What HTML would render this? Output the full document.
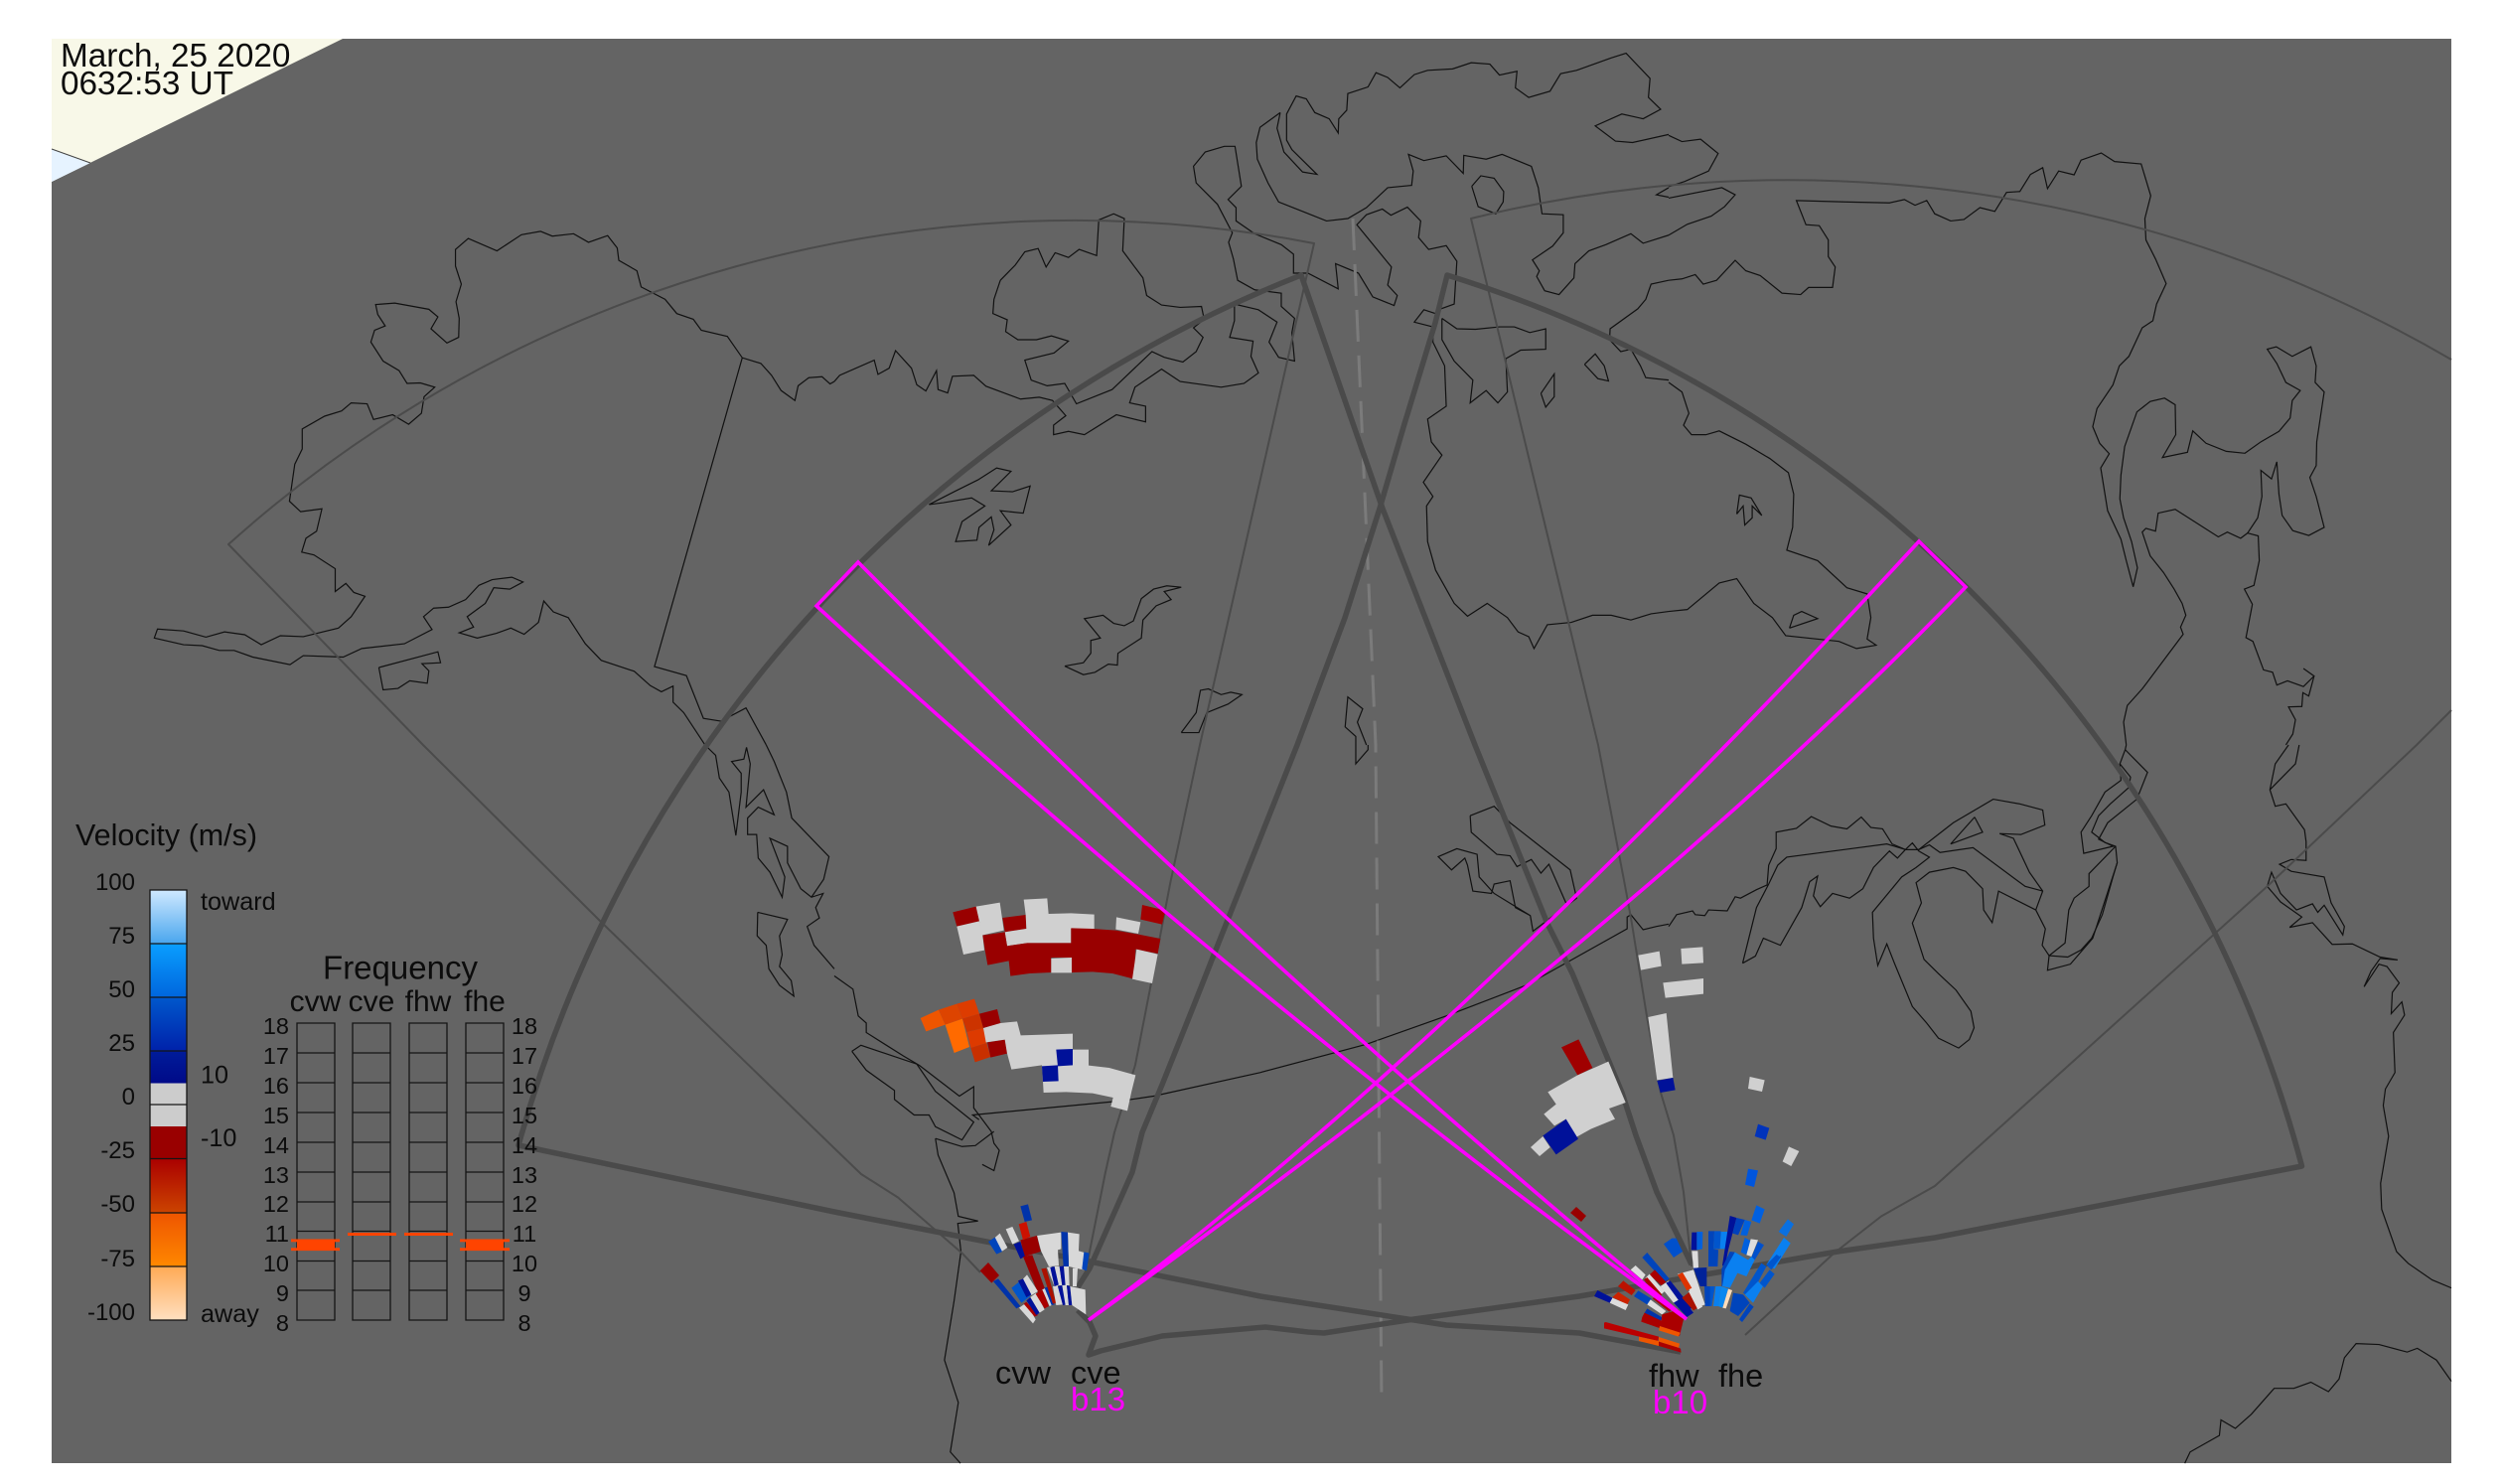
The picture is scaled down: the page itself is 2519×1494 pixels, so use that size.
<!DOCTYPE html>
<html><head><meta charset="utf-8"><style>
html,body{margin:0;padding:0;background:#fff}
svg{display:block}
.c polyline{fill:none;stroke:#111;stroke-width:1.2;vector-effect:non-scaling-stroke}
.t path{fill:none;stroke:#4b4b4b;stroke-width:2;stroke-linejoin:round}
.k path{fill:none;stroke:#4a4a4a;stroke-width:5.5;stroke-linejoin:round}
text{font-family:"Liberation Sans",sans-serif;fill:#0c0c0c}
</style></head><body>
<svg width="2519" height="1494" viewBox="0 0 2519 1494" xmlns="http://www.w3.org/2000/svg">
<rect x="52" y="39" width="2416" height="1434" fill="#646464"/>
<polygon points="52,39 345,39 52,183" fill="#f8f8e8"/>
<polygon points="52,150 91,164 52,183" fill="#e6f3ff"/>
<polyline points="52,150 91,164" fill="none" stroke="#444" stroke-width="1"/>

<g class="c" transform="scale(.5357,.4783)">
<polyline points="1568,803 1560,808 1545,793 1520,795 1500,812 1494,843 1468,822 1450,790 1430,765 1395,753 1367,708 1318,695 1303,672 1272,660 1250,630 1205,604 1197,570 1163,548 1160,522 1142,496 1106,510 1078,492 1038,497 1016,487 980,494 934,528 880,502 856,525 856,560 867,598 857,635 863,670 862,710 840,722 810,692 823,667 806,651 742,638 706,641 710,662 724,686 704,695 697,720 720,760 750,780 765,807 790,806 817,815 797,835 792,870 768,893 738,873 702,883 690,850 660,848 642,865 610,876 568,903 568,945 554,977 544,1055 565,1077 605,1071 595,1118 575,1133 567,1162 590,1168 630,1197 630,1245 650,1228 665,1247 686,1255 660,1298 636,1322 570,1340 527,1338 491,1357 460,1336 422,1330 387,1341 345,1328 296,1324 290,1343 345,1357 380,1359 412,1369 440,1369 475,1383 545,1399 570,1380 645,1383 680,1365 760,1355 812,1325 796,1298 815,1280 843,1278 875,1262 900,1232 925,1220 962,1215 983,1225 958,1240 928,1237 912,1270 878,1298 890,1320 863,1332 897,1343 933,1333 960,1322 985,1335 1012,1310 1022,1265 1040,1288 1068,1300 1100,1355 1130,1390 1192,1413 1222,1443 1243,1456 1265,1444 1265,1478 1285,1500 1325,1568"/>
<polyline points="1395,753 1230,1403 1290,1422 1322,1512 1355,1518 1402,1490 1440,1568"/>
<polyline points="712,1405 823,1372 828,1395 793,1397 806,1412 803,1438 770,1433 748,1449 720,1452 712,1405"/>
</g>

<g class="c" transform="translate(0,750) scale(.5357,.4745)">
<polyline points="1325,0 1345,22 1352,70 1370,100 1383,192 1393,100 1393,60 1375,35 1398,30 1403,5 1410,40 1402,132 1435,95 1455,148 1425,132 1405,155 1405,190 1422,190 1425,240 1447,270 1470,323 1475,280 1447,198 1480,215 1480,250 1505,305 1525,323 1547,315 1533,345 1540,367 1517,385 1530,425 1568,475"/>
<polyline points="1440,0 1455,35 1478,100 1488,155 1558,237 1548,285 1525,323"/>
<polyline points="1424,355 1480,370 1465,405 1470,445 1465,470 1487,500 1492,533 1465,510 1445,475 1440,425 1423,405 1424,355"/>
</g>

<g class="c" transform="translate(840,0) scale(.5357,.4783)">
<polyline points="0,803 10,790 75,758 82,788 103,775 115,738 145,775 155,810 172,823 192,780 195,820 213,827 222,792 262,790 285,813 350,840 385,836 410,843 435,875 412,895 412,915 440,908 470,915 530,873 585,888 585,855 555,848 565,815 615,777 650,803 727,815 770,807 797,785 783,750 787,718 743,710 752,675 752,640 797,652 832,678 817,720 835,752 865,760 860,700 865,670 840,645 840,617 790,610 758,590 750,545 741,510 748,490 720,430 680,385 675,350 697,320 733,308 753,308 765,392 740,420 755,437 755,465 790,492 840,515 863,535 863,575 890,575 947,608 942,555 985,575 1012,625 1052,643 1058,622 1040,600 1047,562 982,473 1000,452 1030,440 1046,453 1077,436 1102,465 1098,500 1117,525 1150,517 1170,550 1165,640 1140,650 1130,660 1108,652 1090,678 1125,688 1125,720 1147,770 1150,855 1115,882 1122,930 1142,958 1107,1015 1125,1045 1113,1065 1115,1140 1130,1200 1165,1270 1190,1297 1227,1270 1265,1300 1285,1330 1305,1340 1315,1365 1340,1315 1385,1310 1425,1295 1460,1295 1497,1305 1535,1292 1568,1287"/>
<polyline points="1142,670 1170,692 1205,693 1250,688 1278,688 1307,700 1337,692 1337,735 1290,737 1262,755 1265,825 1247,848 1225,822 1195,848 1200,800 1165,760 1142,715 1142,670"/>
<polyline points="838,237 800,268 793,300 795,335 815,385 835,425 880,445 925,465 965,460 1000,437 1040,395 1085,390 1088,360 1079,325 1108,338 1150,328 1182,365 1183,327 1225,335 1255,325 1310,350 1323,395 1330,450 1370,452 1370,490 1350,518 1312,547 1325,570 1320,582 1335,612 1362,620 1390,585 1392,555 1418,528 1450,515 1497,492 1520,512 1568,495"/>
<polyline points="838,237 832,270 845,320 880,362 907,367 860,315 850,295 850,240 868,202 887,208 903,237 930,250 947,280 948,250 963,232 965,197 1003,183 1018,153 1040,163 1063,185 1090,157 1115,148 1162,145 1197,132 1232,135 1250,158 1283,150 1280,185 1305,205 1345,192 1365,155 1395,148 1460,122 1488,112 1533,165 1530,205 1553,230 1520,250 1480,240 1430,265 1468,297 1500,300 1568,283"/>
<polyline points="1198,392 1215,370 1240,375 1258,403 1257,425 1243,450 1210,435 1198,392"/>
<polyline points="312,590 300,630 298,660 325,673 322,698 345,715 380,715 408,707 440,718 413,743 358,758 370,800 400,812 433,807 455,850 522,820 597,740 620,752 655,762 680,740 693,710 675,690 695,672 690,645 650,647 615,642 587,622 580,585 542,528 545,460 525,450 497,463 493,538 460,525 440,542 415,532 398,562 383,523 358,530 340,558 312,590"/>
<polyline points="178,1062 205,1058 258,1048 283,1065 240,1098 228,1140 268,1137 272,1110 295,1088 300,1115 290,1148 332,1105 312,1075 355,1080 368,1023 335,1035 295,1033 332,992 305,985 270,1010 225,1035 178,1062"/>
<polyline points="433,1402 468,1395 482,1375 482,1348 500,1343 470,1302 505,1295 525,1312 545,1317 562,1307 577,1260 600,1240 625,1233 652,1236 620,1245 633,1262 605,1275 580,1305 577,1343 533,1375 532,1400 515,1398 490,1415 468,1420 433,1402"/>
<polyline points="652,1542 680,1500 688,1453 703,1450 727,1462 745,1457 766,1462 740,1482 700,1500 685,1542 652,1542"/>
<polyline points="1000,1568 983,1520 993,1492 965,1467 960,1530 980,1550 980,1568"/>
<polyline points="1410,767 1430,745 1447,770 1455,802 1435,797 1410,767"/>
<polyline points="1328,828 1353,787 1353,835 1337,857 1328,828"/>
<polyline points="1568,395 1545,410 1568,415"/>
<polyline points="1568,590 1535,598 1525,630 1510,650 1458,692 1457,715 1478,740 1497,735 1515,770 1525,795 1568,800"/>
</g>

<g class="c" transform="translate(1680,0) scale(.5357,.4783)">
<polyline points="0,285 25,298 60,293 93,323 75,360 30,382 0,393"/>
<polyline points="0,417 100,395 125,410 105,435 80,455 35,472 0,495"/>
<polyline points="0,590 25,587 50,578 65,598 90,590 125,548 145,570 172,580 213,617 248,620 263,605 308,605 313,562 300,540 300,505 283,475 258,473 240,422 330,425 415,427 443,420 463,432 485,422 500,450 530,465 555,462 585,437 613,445 635,405 660,403 680,367 703,353 712,397 733,360 762,368 775,337 813,322 838,340 888,345 906,412 895,460 897,505 915,545 935,597 917,640 910,675 890,690 865,750 847,770 835,810 805,860 797,898 810,933 828,955 812,985 825,1075 850,1135 860,1180 873,1235 881,1195 870,1140 855,1090 848,1050 850,1000 857,940 880,867 905,845 932,838 952,852 953,915 928,963 975,952 985,907 1010,933 1048,950 1083,954 1113,930 1147,908 1168,880 1172,843 1187,822 1160,805 1143,765 1125,735 1142,730 1172,750 1207,730 1217,770 1215,805 1232,825 1218,930 1217,980 1205,1005 1217,1045 1232,1110 1203,1127 1173,1117 1153,1085 1147,1040 1143,972 1133,1008 1113,990 1115,1045 1107,1090 1088,1122 1108,1128 1110,1180 1100,1232 1082,1240 1097,1272 1085,1342 1098,1350 1118,1410 1135,1415 1143,1442 1163,1433 1193,1445 1213,1423 1193,1407"/>
<polyline points="1213,1423 1203,1465 1192,1458 1190,1487 1165,1488 1178,1515 1173,1545 1160,1568"/>
<polyline points="1088,1122 1075,1133 1050,1120 1033,1130 952,1072 920,1080 915,1118 897,1112 890,1120 905,1170 930,1205 950,1240 965,1270 972,1295 962,1320 967,1335 890,1450 862,1485 855,1520 860,1568"/>
<polyline points="0,805 25,825 38,870 28,895 43,915 70,915 95,907 145,935 190,965 225,995 235,1040 233,1110 222,1158 280,1180 335,1237 373,1250 380,1300 373,1345 390,1358 353,1365 320,1350 220,1338 195,1300 160,1270 128,1218 95,1227 35,1283 0,1287"/>
<polyline points="128,1082 133,1042 155,1048 175,1085 157,1065 157,1090 143,1105 140,1065 128,1082"/>
<polyline points="227,1322 235,1295 250,1287 280,1302 227,1322"/>
</g>

<g class="c" transform="translate(840,750) scale(.5357,.4745)">
<polyline points="0,490 35,518 45,575 60,590 60,610 130,660 160,680 235,745 262,725 262,770 295,820 300,845 310,860 300,903 278,890"/>
<polyline points="33,650 50,637 155,677 190,735 262,800 240,838 190,810 178,785 150,785 113,752 113,733 60,690 33,650"/>
<polyline points="190,835 195,870 225,950 233,1000 270,1010 232,1015 238,1075 225,1180 207,1305 233,1395 218,1500 237,1524"/>
<polyline points="190,835 240,852 265,850 300,820"/>
<polyline points="272,795 260,785 400,770 540,755 600,745 800,695 1000,635 1150,575 1300,510 1490,390 1490,365 1497,360 1520,392 1545,385 1568,380"/>
<polyline points="1195,150 1240,130 1270,165 1383,265 1395,325 1313,395 1308,362 1280,345 1270,288 1240,295 1235,315 1200,310 1190,255 1185,240 1160,265 1135,237 1170,220 1208,232 1212,280 1240,315 1308,362"/>
<polyline points="1195,150 1197,185 1245,232 1270,235 1283,258 1310,243 1328,272 1343,253 1375,335"/>
<polyline points="1003,0 1003,10 980,40 980,0"/>
</g>

<g class="c" transform="translate(1680,750) scale(.5357,.4745)">
<polyline points="0,385 15,360 45,352 50,360 68,362 75,350 110,352 125,322 135,325 165,307 185,297 188,255 202,220 202,185 240,177 268,152 305,172 335,178 362,153 380,175 402,178 420,210 445,222 470,222 535,165 610,115 660,125 703,138 707,170 662,190 622,188 648,198 678,270 703,310 690,350 708,390 702,425 715,447 750,450 775,435 795,410 815,360 835,280 843,250 840,215 820,207 795,185 808,150 830,125 865,90 868,68 848,40 858,10 860,0"/>
<polyline points="858,10 900,58 880,115 825,165 808,200 835,215 780,230 775,185 795,150 820,100 850,75 848,40"/>
<polyline points="139,463 163,448 178,410 210,425 250,345 265,290 280,278 272,320 285,343 308,315 340,325 365,305 385,260 415,225 430,240 445,222 458,208 470,225 490,238 465,260 438,280 383,355 385,410 393,468 410,422 425,465 458,555 485,590 507,622 545,643 565,625 574,600 568,565 540,520 507,485 480,455 458,378 475,335 465,292 490,270 535,260 558,268 590,305 592,350 608,377 620,310 690,350"/>
<polyline points="139,463 165,345 188,295 205,255 222,238 330,222 410,210 445,222"/>
<polyline points="470,222 490,212 510,228 572,218 670,300 703,310"/>
<polyline points="575,153 590,185 530,210 575,153"/>
<polyline points="715,447 712,478 755,465 797,410 843,250"/>
<polyline points="715,447 745,420 752,350 762,325 790,300 790,273 840,215"/>
<polyline points="1165,0 1140,40 1130,95 1140,130 1160,125 1195,180 1198,205 1198,245 1170,243 1148,253 1170,268 1232,280 1245,335 1270,385 1267,403 1232,340 1220,355 1210,337 1180,350 1150,315 1133,270 1125,300 1150,333 1190,365 1167,387 1210,377 1247,423 1285,422 1337,450 1370,456 1337,453 1320,480 1307,513 1335,465 1350,470 1373,505 1360,525 1358,570 1378,545 1383,573 1362,610 1365,695 1347,730 1343,765 1353,830 1338,930 1340,985 1368,1075 1390,1100 1435,1135 1471,1152"/>
<polyline points="1130,95 1178,40 1185,0"/>
<polyline points="970,1524 980,1500 1035,1465 1038,1432 1065,1450 1095,1420 1138,1365 1175,1365 1207,1352 1240,1372 1260,1345 1270,1300 1292,1270 1335,1272 1388,1288 1407,1280 1443,1305 1471,1350"/>
</g>

<!-- thin FOV lines -->
<g class="t">
<path d="M987,1281 L969,1262 L904,1205.500 L867,1182 L840,1156 L605,928 L426,750 L230,548 A1275,1275 0 0 1 1323,245 L1208,750 L1178,890 L1157,1000 L1143,1072 L1122,1140 L1113,1180 L1093,1280"/>
<path d="M2468,362 A1327,1327 0 0 0 1481,220 L1609,750 L1638,902 L1643,930 L1658,1023 L1672,1100 L1685,1143 L1695,1200 L1703,1275"/>
<path d="M2468,715 L2433,750 L2283,892 L1948,1194 L1894,1224.500 L1846,1262 L1757,1344"/>
</g>

<!-- dashed center -->
<polyline points="1362,220 1385,750 1391,1414" fill="none" stroke="#7b7b7b" stroke-width="3" stroke-dasharray="32 14"/>

<!-- thick FOV lines -->
<g class="k">
<path d="M1703,1273 L1668,1200 L1647,1143 L1633,1100 L1583,980 L1558,930 L1485,750 L1392,512 L1310,277 A1322,1322 0 0 0 522,1153 L840,1220 L993,1250 L1097,1270 L1269,1305 L1456,1334 L1590,1342 L1692,1361"/>
<path d="M1085,1296 L1097,1277 L1140,1180 L1150,1140 L1170,1092 L1200,1017 L1242,911 L1306,750 L1354,622 L1389,512 L1413,430 L1445,325 L1457,277 A1285,1285 0 0 1 2317.500,1174 L1948,1246 L1850,1260 L1723,1282 L1590,1305 L1424,1328 L1333,1342 L1317,1341 L1274,1336 L1170,1345 L1108,1360 L1096,1364 L1103,1345 L1097,1331 L1085,1319"/>
</g>

<!-- Top cluster, lower cluster -->
<g transform="translate(900,890) scale(.33333)">
<polygon fill="#990000" points="178,85 248,68 258,112 190,128"/>
<polygon fill="#d0d0d0" points="248,68 320,56 332,140 265,155 258,112"/>
<polygon fill="#d0d0d0" points="190,128 258,112 268,155 273,200 210,213"/>
<polygon fill="#990000" points="328,102 398,93 400,135 335,145"/>
<polygon fill="#d0d0d0" points="392,47 463,43 467,90 535,88 605,92 605,135 535,135 535,178 402,178 342,187 335,145 400,135 398,93"/>
<polygon fill="#d0d0d0" points="672,100 745,115 738,150 670,137"/>
<polygon fill="#a30000" points="750,63 820,80 810,122 745,107"/>
<polygon fill="#990000" points="268,155 335,145 342,187 402,178 535,178 535,133 600,135 670,140 738,152 805,165 797,210 730,197 725,287 660,270 600,265 537,267 537,222 475,222 475,267 410,270 352,278 347,232 283,245 275,200"/>
<polygon fill="#d0d0d0" points="475,225 537,222 537,268 475,268"/>
<polygon fill="#d0d0d0" points="733,197 797,212 780,300 720,287"/>
<polygon fill="#ee5500" points="80,405 135,380 155,425 97,445"/>
<polygon fill="#dd4400" points="135,380 190,362 207,407 155,425"/>
<polygon fill="#dd3c00" points="190,362 243,347 258,392 207,407"/>
<polygon fill="#ff6a00" points="155,425 207,407 228,492 182,510"/>
<polygon fill="#cc3300" points="207,407 258,392 270,435 220,447"/>
<polygon fill="#dd3a00" points="220,447 270,435 280,480 232,495"/>
<polygon fill="#c83000" points="232,495 280,480 292,522 245,538"/>
<polygon fill="#990000" points="258,392 312,378 322,420 270,435"/>
<polygon fill="#990000" points="282,478 335,470 342,512 292,524"/>
<polygon fill="#d0d0d0" points="270,435 322,420 372,415 383,457 540,452 540,500 588,500 588,548 650,555 730,577 718,625 705,685 655,672 662,645 600,632 520,628 452,630 450,595 447,547 355,560 342,512 335,470 278,478"/>
<polygon fill="#001199" points="490,500 540,498 540,547 495,550"/>
<polygon fill="#001199" points="447,550 495,547 497,595 450,597"/>
</g>

<g transform="translate(1520,930) scale(.33333)">
<polygon fill="#d0d0d0" points="388,95 452,83 458,128 396,140"/>
<polygon fill="#d0d0d0" points="517,75 583,70 585,118 520,122"/>
<polygon fill="#d0d0d0" points="463,178 585,165 585,212 470,224"/>
<polygon fill="#d0d0d0" points="418,282 473,270 493,465 445,472"/>
<polygon fill="#001199" points="445,474 493,465 500,502 455,510"/>
<polygon fill="#a00000" points="156,373 208,349 250,435 205,457"/>
<polygon fill="#d0d0d0" points="115,508 205,457 298,416 350,540 300,558 318,590 245,620 200,645 170,590 135,610 103,575 140,545"/>
<polygon fill="#001199" points="100,640 170,590 207,650 140,697"/>
<polygon fill="#d0d0d0" points="63,675 100,642 122,675 90,702"/>
<polygon fill="#d0d0d0" points="725,462 770,472 762,507 720,498"/>
<polygon fill="#0033bb" points="750,605 784,617 773,653 740,642"/>
<polygon fill="#d0d0d0" points="843,673 874,687 850,732 824,718"/>
<polygon fill="#0055dd" points="720,740 750,745 738,795 711,788"/>
</g>
<polygon fill="#990000" points="1581,1221 1587,1215 1597,1224 1592,1230"/>

<!-- cv fan -->
<g transform="translate(950,1180) scale(.33333)">
<polygon fill="#d8d8d8" points="282,192 355,182 355,232 345,235 348,283 318,285 295,240"/>
<polygon fill="#d8d8d8" points="375,182 410,187 408,238 425,243 422,295 378,285"/>
<polygon fill="#0033aa" points="355,180 375,182 378,285 362,285"/>
<polygon fill="#0044bb" points="424,241 440,245 432,298 418,293"/>
<polygon fill="#990000" points="232,205 282,192 293,240 245,255"/>
<polygon fill="#001199" points="212,218 232,210 246,255 232,262"/>
<polygon fill="#990000" points="240,255 268,250 305,350 285,365"/>
<polygon fill="#cc1100" points="227,157 250,150 262,195 240,205"/>
<polygon fill="#0033aa" points="232,103 255,97 267,145 245,150"/>
<polygon fill="#d8d8d8" points="188,172 208,165 228,208 208,218"/>
<polygon fill="#d8d8d8" points="155,198 170,185 193,228 175,240"/>
<polygon fill="#0044bb" points="135,210 155,197 177,240 160,248"/>
<polygon fill="#990000" points="110,298 135,273 168,312 145,335"/>
<polygon fill="#0033aa" points="150,330 165,322 232,405 220,412"/>
<polygon fill="#d8d8d8" points="235,328 252,310 285,360 265,372"/>
<polygon fill="#0055cc" points="205,350 230,330 262,375 235,395"/>
<polygon fill="#001199" points="225,328 240,322 265,370 250,378"/>
<polygon fill="#d8d8d8" points="228,410 250,395 278,445 270,457"/>
<polygon fill="#aa0000" points="242,398 250,392 285,432 275,437"/>
<polygon fill="#001199" points="250,388 262,378 290,425 280,432"/>
<polygon fill="#d8d8d8" points="262,378 280,365 305,415 290,425"/>
<polygon fill="#aa0000" points="278,368 300,355 318,405 305,412"/>
<polygon fill="#d8d8d8" points="298,355 310,350 330,400 320,405"/>
<polygon fill="#0033aa" points="305,350 318,345 335,400 326,402"/>
<polygon fill="#aa1100" points="295,292 310,290 340,395 330,398"/>
<polygon fill="#d8d8d8" points="312,288 325,285 358,340 335,345"/>
<polygon fill="#d8d8d8" points="330,345 345,343 360,400 340,402"/>
<polygon fill="#001199" points="322,288 335,285 348,340 335,345"/>
<polygon fill="#d8d8d8" points="335,285 350,285 358,342 348,342"/>
<polygon fill="#001199" points="350,285 363,283 370,340 358,342"/>
<polygon fill="#d8d8d8" points="363,285 378,285 380,342 368,342"/>
<polygon fill="#d8d8d8" points="390,290 405,290 402,345 390,345"/>
<polygon fill="#001199" points="345,345 358,342 370,400 360,402"/>
<polygon fill="#d8d8d8" points="358,342 372,342 378,402 368,402"/>
<polygon fill="#001199" points="372,342 382,345 388,402 378,402"/>
<polygon fill="#d8d8d8" points="382,345 428,355 430,430 388,402"/>
</g>

<!-- fh fan -->
<g transform="translate(1590,1200) scale(.33333)">
<polygon fill="#0060e0" points="535,40 560,52 545,95 520,85"/>
<polygon fill="#0a70e0" points="630,82 648,97 625,135 602,120"/>
<polygon fill="#0a80f0" points="618,138 638,155 590,232 565,220"/>
<polygon fill="#0044bb" points="390,118 408,118 405,172 420,175 418,225 390,225"/>
<polygon fill="#0055cc" points="408,118 428,118 425,172 405,172"/>
<polygon fill="#0a80f0" points="428,120 447,120 445,172 425,172"/>
<polygon fill="#001199" points="455,72 475,78 450,175 440,225 432,222"/>
<polygon fill="#0040bb" points="475,78 500,84 480,130 463,125"/>
<polygon fill="#0060dd" points="500,84 520,90 507,132 487,130"/>
<polygon fill="#001199" points="340,122 355,122 355,175 338,175"/>
<polygon fill="#0060dd" points="355,120 373,120 372,172 355,175"/>
<polygon fill="#dddddd" points="340,178 358,178 360,228 345,232"/>
<polygon fill="#0050cc" points="255,157 280,140 293,140 312,180 285,198"/>
<polygon fill="#0060dd" points="500,138 518,148 505,190 488,182"/>
<polygon fill="#dddddd" points="518,142 540,145 520,195 505,190"/>
<polygon fill="#0050cc" points="540,150 558,160 530,205 520,197"/>
<polygon fill="#0044bb" points="430,232 455,180 470,182 440,285 430,285"/>
<polygon fill="#0a80f0" points="440,235 470,182 510,205 520,195 530,205 505,255 478,245 455,290 432,285"/>
<polygon fill="#0055cc" points="385,345 395,285 410,285 400,345"/>
<polygon fill="#0a80f0" points="405,345 412,285 428,285 420,345"/>
<polygon fill="#0a88f0" points="420,345 428,285 450,292 433,350"/>
<polygon fill="#ffddbb" points="433,350 450,293 462,297 443,352"/>
<polygon fill="#0044bb" points="455,358 465,305 495,310 515,335 480,375 458,362"/>
<polygon fill="#0044bb" points="483,385 515,337 527,347 492,393"/>
<polygon fill="#0055cc" points="495,305 550,215 565,225 515,320"/>
<polygon fill="#0a80f0" points="500,310 540,270 555,285 525,335"/>
<polygon fill="#0055cc" points="545,275 575,235 590,248 560,290"/>
<polygon fill="#0055cc" points="565,220 600,185 610,195 580,235"/>
<polygon fill="#0a80f0" points="590,185 618,138 638,155 605,195"/>
<polygon fill="#0044bb" points="190,198 205,183 272,262 258,272"/>
<polygon fill="#dddddd" points="155,235 170,222 200,250 190,265"/>
<polygon fill="#aa0000" points="212,250 228,235 262,272 248,282"/>
<polygon fill="#dddddd" points="200,260 212,248 258,300 245,312"/>
<polygon fill="#aa0000" points="195,265 205,258 250,310 240,320"/>
<polygon fill="#dddddd" points="245,285 270,268 310,320 285,335"/>
<polygon fill="#001199" points="262,275 275,268 340,350 325,362"/>
<polygon fill="#dddddd" points="297,248 345,235 380,340 355,350 330,290"/>
<polygon fill="#dd3300" points="297,250 312,243 340,290 325,298"/>
<polygon fill="#002299" points="345,230 385,228 385,285 365,285"/>
<polygon fill="#0044bb" points="378,285 395,285 395,345 380,345"/>
<polygon fill="#aa1100" points="310,320 335,300 365,345 345,358"/>
<polygon fill="#dddddd" points="330,300 345,293 372,347 358,355"/>
<polygon fill="#001199" points="285,335 310,320 345,365 325,378"/>
<polygon fill="#bb1100" points="117,285 133,268 170,297 158,312"/>
<polygon fill="#cc2200" points="100,318 118,302 153,325 145,340"/>
<polygon fill="#dddddd" points="92,335 100,320 148,340 140,357"/>
<polygon fill="#001199" points="45,315 55,297 100,320 92,335"/>
<polygon fill="#0044bb" points="165,315 178,298 218,322 205,340"/>
<polygon fill="#dddddd" points="205,340 215,325 262,360 250,370"/>
<polygon fill="#aa0000" points="222,322 235,307 285,350 272,362"/>
<polygon fill="#0033aa" points="196,367 205,352 252,380 245,390"/>
<polygon fill="#aa0000" points="190,378 197,365 250,390 245,412 187,392"/>
<polygon fill="#aa0000" points="250,370 300,355 315,385 303,435 245,410"/>
<polygon fill="#ee5500" points="243,405 305,425 300,437 240,418"/>
<polygon fill="#bb0000" points="75,395 80,393 240,437 238,450 75,412"/>
<polygon fill="#ee5500" points="180,437 240,450 240,465 180,450"/>
<polygon fill="#ee5500" points="240,438 303,458 300,472 240,452"/>
<polygon fill="#aa0000" points="240,452 305,472 308,485 240,465"/>
</g>

<!-- magenta beams -->
<g fill="none" stroke="#ff00ff" stroke-width="3.600" stroke-linejoin="miter">
<path d="M1698,1328 Q1265,971 864,566 L822,610 Q1264,1014 1698,1328 Z"/>
<path d="M1096,1329 Q1461,1056 1932,545 L1979,591 Q1654,929 1096,1329 Z"/>
</g>

<!-- Legend -->
<defs>
<linearGradient id="g1" x1="0" y1="0" x2="0" y2="1"><stop offset="0" stop-color="#cfe9ff"/><stop offset="1" stop-color="#4aa6ee"/></linearGradient>
<linearGradient id="g2" x1="0" y1="0" x2="0" y2="1"><stop offset="0" stop-color="#0a9eff"/><stop offset="1" stop-color="#0066dd"/></linearGradient>
<linearGradient id="g3" x1="0" y1="0" x2="0" y2="1"><stop offset="0" stop-color="#0058cc"/><stop offset="1" stop-color="#0022aa"/></linearGradient>
<linearGradient id="g4" x1="0" y1="0" x2="0" y2="1"><stop offset="0" stop-color="#001c9a"/><stop offset="1" stop-color="#000a88"/></linearGradient>
<linearGradient id="g5" x1="0" y1="0" x2="0" y2="1"><stop offset="0" stop-color="#aa0000"/><stop offset="1" stop-color="#cc4400"/></linearGradient>
<linearGradient id="g6" x1="0" y1="0" x2="0" y2="1"><stop offset="0" stop-color="#ee5500"/><stop offset="1" stop-color="#ff8800"/></linearGradient>
<linearGradient id="g7" x1="0" y1="0" x2="0" y2="1"><stop offset="0" stop-color="#ffaa55"/><stop offset="1" stop-color="#ffdfc0"/></linearGradient>
</defs>
<rect x="151" y="896" width="37" height="54" fill="url(#g1)"/>
<rect x="151" y="950" width="37" height="54" fill="url(#g2)"/>
<rect x="151" y="1004" width="37" height="54" fill="url(#g3)"/>
<rect x="151" y="1058" width="37" height="32.500" fill="url(#g4)"/>
<rect x="151" y="1090.500" width="37" height="43.500" fill="#cccccc"/>
<rect x="151" y="1134" width="37" height="32.500" fill="#990000"/>
<rect x="151" y="1166.500" width="37" height="54.500" fill="url(#g5)"/>
<rect x="151" y="1221" width="37" height="54" fill="url(#g6)"/>
<rect x="151" y="1275" width="37" height="54" fill="url(#g7)"/>
<g stroke="#151515" stroke-width="1.300" fill="none">
<rect x="151" y="896" width="37" height="433"/>
<path d="M151 950H188M151 1004H188M151 1058H188M151 1112H188M151 1166.500H188M151 1221H188M151 1275H188"/>
<path d="M299 1030H337V1329H299ZM355 1030H393V1329H355ZM412 1030H450V1329H412ZM469 1030H507V1329H469Z"/>
<path d="M299 1060H337M299 1090H337M299 1120H337M299 1150H337M299 1180H337M299 1210H337M299 1239.500H337M299 1269.500H337M299 1299H337"/>
<path d="M355 1060H393M355 1090H393M355 1120H393M355 1150H393M355 1180H393M355 1210H393M355 1239.500H393M355 1269.500H393M355 1299H393"/>
<path d="M412 1060H450M412 1090H450M412 1120H450M412 1150H450M412 1180H450M412 1210H450M412 1239.500H450M412 1269.500H450M412 1299H450"/>
<path d="M469 1060H507M469 1090H507M469 1120H507M469 1150H507M469 1180H507M469 1210H507M469 1239.500H507M469 1269.500H507M469 1299H507"/>
</g>
<g fill="#ff4400">
<rect x="299" y="1247.500" width="38" height="11.500"/><rect x="293" y="1247.500" width="49" height="2.800"/><rect x="293" y="1256.300" width="49" height="2.800"/>
<rect x="469" y="1247.500" width="38" height="11.500"/><rect x="463" y="1247.500" width="50" height="2.800"/><rect x="463" y="1256.300" width="50" height="2.800"/>
<rect x="350" y="1241" width="49" height="3"/><rect x="407" y="1241" width="49" height="3"/>
</g>

<text x="76" y="851" font-size="30.500">Velocity (m/s)</text>
<g font-size="24" text-anchor="end">
<text x="136" y="896">100</text><text x="136" y="950">75</text><text x="136" y="1004">50</text><text x="136" y="1058">25</text><text x="136" y="1112">0</text><text x="136" y="1166">-25</text><text x="136" y="1220">-50</text><text x="136" y="1275">-75</text><text x="136" y="1329">-100</text>
</g>
<g font-size="25.200">
<text x="202" y="916">toward</text><text x="202" y="1090.500">10</text><text x="202" y="1154">-10</text><text x="202" y="1331">away</text>
</g>
<text x="403" y="985.500" font-size="33" text-anchor="middle">Frequency</text>
<g font-size="30" text-anchor="middle">
<text x="317.500" y="1018">cvw</text><text x="374" y="1018">cve</text><text x="431" y="1018">fhw</text><text x="488" y="1018">fhe</text>
</g>
<g font-size="23.500" text-anchor="end">
<text x="291" y="1041">18</text><text x="291" y="1071">17</text><text x="291" y="1101">16</text><text x="291" y="1131">15</text><text x="291" y="1161">14</text><text x="291" y="1191">13</text><text x="291" y="1220">12</text><text x="291" y="1250">11</text><text x="291" y="1280">10</text><text x="291" y="1310">9</text><text x="291" y="1340">8</text>
</g>
<g font-size="23.500" text-anchor="middle">
<text x="528" y="1041">18</text><text x="528" y="1071">17</text><text x="528" y="1101">16</text><text x="528" y="1131">15</text><text x="528" y="1161">14</text><text x="528" y="1191">13</text><text x="528" y="1220">12</text><text x="528" y="1250">11</text><text x="528" y="1280">10</text><text x="528" y="1310">9</text><text x="528" y="1340">8</text>
</g>

<text x="61" y="67" font-size="33.300">March, 25 2020</text>
<text x="61" y="95" font-size="33.300">0632:53 UT</text>

<g font-size="32.500">
<text x="1002" y="1393">cvw</text><text x="1078" y="1393">cve</text><text x="1660" y="1396">fhw</text><text x="1730" y="1396">fhe</text>
</g>
<g font-size="33">
<text x="1078" y="1420" style="fill:#ff00ff">b13</text><text x="1664" y="1423" style="fill:#ff00ff">b10</text>
</g>
</svg>
</body></html>
